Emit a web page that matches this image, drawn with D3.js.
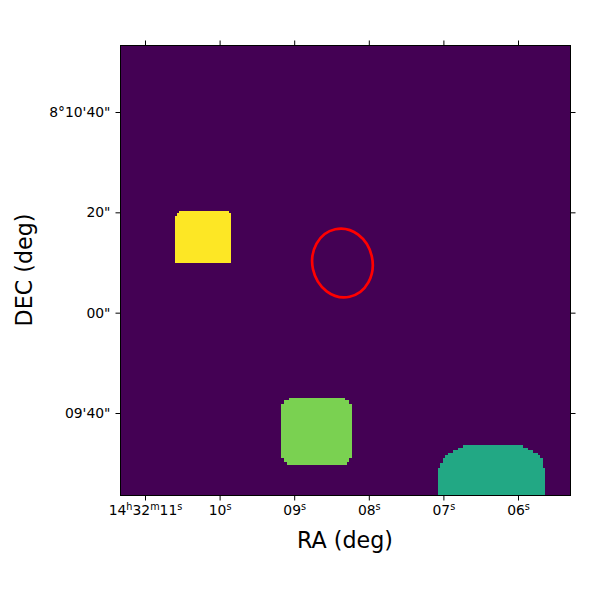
<!DOCTYPE html>
<html>
<head>
  <meta charset="utf-8">
  <title>Region map</title>
  <script src="https://d3js.org/d3.v7.min.js"></script>
  <style>
    body { margin: 0; background: white; }
    svg { display: block; }
    text { font-family: "DejaVu Sans", sans-serif; fill: #000; }
    .tick line { stroke: #000; }
    .tick text { font-size: 13.9px; }
  </style>
</head>
<body>
  <div id="chart"></div>
  <script>
    // tick values and labels, RA in seconds past 14h32m, DEC in arcsec past 8d10m
    var raTicks = [11, 10, 9, 8, 7, 6];
    var raLabels = ["14^h32^m11^s", "10^s", "09^s", "08^s", "07^s", "06^s"];
    var decTicks = [40, 20, 0, -20];
    var decLabels = ["8°10'40\"", "20\"", "00\"", "09'40\""];

    // label value of each region in the map
    var gridSize = 180;
    var maxLabel = 5;
    var yellowLabel = 5;
    var greenLabel = 4;
    var tealLabel = 3;

    // image cells of each region: rowStart, rowEnd, colStart, colEnd
    var yellowCells = [
      [66.2, 67.2, 23.7, 43.6],
      [67.2, 68.4, 22.7, 44.4],
      [68.4, 87.3, 21.9, 44.4]
    ];
    var greenCells = [
      [141, 142, 67.6, 90],
      [142, 143.6, 65.4, 91.4],
      [143.6, 165.2, 64.2, 92.6],
      [165.2, 166.8, 65.4, 91.4],
      [166.8, 168, 66.6, 90.6]
    ];
    var tealCells = [
      [160, 161, 137, 161],
      [161, 162, 135, 163],
      [162, 163, 133, 165],
      [163, 164, 131, 167],
      [164, 165, 130, 168],
      [165, 167, 129, 169],
      [167, 169, 128, 169.3],
      [169, 180, 127.1, 169.8]
    ];

    // red ellipse: centre RA, centre DEC, semi axes in arcsec, tilt in degrees
    var ellipseRa = 8.36;
    var ellipseDec = 10;
    var ellipseSemiX = 6.0;
    var ellipseSemiY = 6.88;
    var ellipseTilt = -12;

    var svg = d3.select("#chart").append("svg")
      .attr("width", 600)
      .attr("height", 600);

    var frameLeft = 120.5, frameRight = 570.5, frameTop = 45.5, frameBottom = 495.5;

    var x = d3.scaleLinear().domain([11, 6]).range([145.5, 518.5]);
    var y = d3.scaleLinear().domain([40, -20]).range([112.5, 413.5]);
    var cellX = d3.scaleLinear().domain([0, gridSize]).range([frameLeft - 0.5, frameRight - 0.5]);
    var cellY = d3.scaleLinear().domain([0, gridSize]).range([frameTop - 0.5, frameBottom - 0.5]);
    var color = d3.scaleSequential(d3.interpolateViridis).domain([0, maxLabel]);

    // background of the map
    svg.append("rect")
      .attr("x", frameLeft)
      .attr("y", frameTop)
      .attr("width", frameRight - frameLeft)
      .attr("height", frameBottom - frameTop)
      .attr("fill", color(0));

    function drawRegion(cells, label) {
      svg.append("g").selectAll("rect")
        .data(cells)
        .enter()
        .append("rect")
        .attr("x", function(d) { return cellX(d[2]); })
        .attr("y", function(d) { return cellY(d[0]); })
        .attr("width", function(d) { return cellX(d[3]) - cellX(d[2]); })
        .attr("height", function(d) { return cellY(d[1]) - cellY(d[0]); })
        .attr("fill", color(label))
        .attr("shape-rendering", "crispEdges");
    }
    drawRegion(yellowCells, yellowLabel);
    drawRegion(greenCells, greenLabel);
    drawRegion(tealCells, tealLabel);

    // ellipse radii go through the DEC scale so they stay in arcsec
    var pxPerArcsec = Math.abs(y(1) - y(0));
    svg.append("ellipse")
      .attr("rx", ellipseSemiX * pxPerArcsec)
      .attr("ry", ellipseSemiY * pxPerArcsec)
      .attr("transform", "translate(" + x(ellipseRa) + "," + y(ellipseDec) + ") rotate(" + ellipseTilt + ")")
      .attr("fill", "none")
      .attr("stroke", "#ff0000")
      .attr("stroke-width", 2.7);

    // frame
    svg.append("rect")
      .attr("x", frameLeft)
      .attr("y", frameTop)
      .attr("width", frameRight - frameLeft)
      .attr("height", frameBottom - frameTop)
      .attr("fill", "none")
      .attr("stroke", "#000")
      .attr("stroke-width", 1);

    // axes, offset 0 because the scales are already on pixel centres
    function labelFrom(labels, ticks) {
      return function(d) { return labels[ticks.indexOf(d)]; };
    }
    var xBottom = svg.append("g")
      .attr("transform", "translate(0," + frameBottom + ")")
      .call(d3.axisBottom(x).offset(0).tickValues(raTicks).tickSize(5).tickPadding(4.5).tickFormat(labelFrom(raLabels, raTicks)));
    svg.append("g")
      .attr("transform", "translate(0," + frameTop + ")")
      .call(d3.axisTop(x).offset(0).tickValues(raTicks).tickSize(5).tickFormat(""));
    var yLeft = svg.append("g")
      .attr("transform", "translate(" + frameLeft + ",0)")
      .call(d3.axisLeft(y).offset(0).tickValues(decTicks).tickSize(5).tickPadding(5).tickFormat(labelFrom(decLabels, decTicks)));
    svg.append("g")
      .attr("transform", "translate(" + frameRight + ",0)")
      .call(d3.axisRight(y).offset(0).tickValues(decTicks).tickSize(5).tickFormat(""));
    svg.selectAll(".domain").remove();

    // turn ^x in RA labels into raised small letters
    xBottom.selectAll(".tick text").each(function() {
      var el = d3.select(this);
      var parts = el.text().split(/(\^.)/);
      el.text(null);
      var raised = false;
      parts.forEach(function(p) {
        if (!p) return;
        if (p[0] === "^") {
          el.append("tspan").attr("dy", "-5px").style("font-size", "9.7px").text(p[1]);
          raised = true;
        } else {
          el.append("tspan").attr("dy", raised ? "5px" : null).text(p);
          raised = false;
        }
      });
    });

    // axis titles
    svg.append("text")
      .attr("x", 345)
      .attr("y", 548)
      .attr("text-anchor", "middle")
      .style("font-size", "22.2px")
      .text("RA (deg)");
    svg.append("text")
      .attr("transform", "translate(32,270) rotate(-90)")
      .attr("text-anchor", "middle")
      .style("font-size", "22.2px")
      .text("DEC (deg)");
  </script>
</body>
</html>
